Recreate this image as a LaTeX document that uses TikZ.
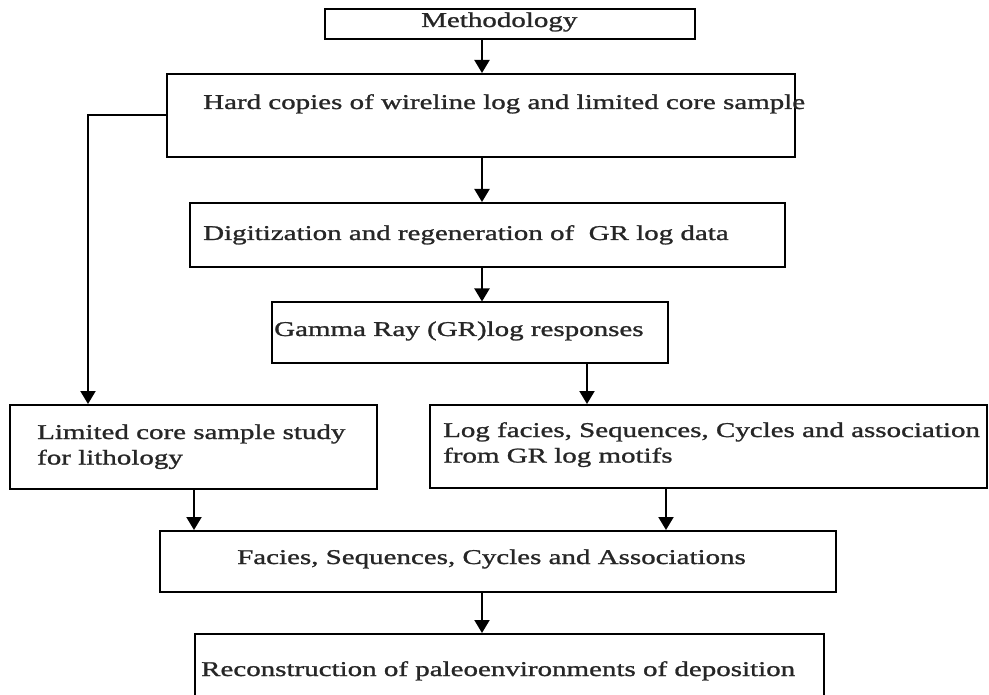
\documentclass[tikz,border=0pt]{standalone}
\usepackage{fontspec}
\setmainfont{Liberation Serif}[FakeStretch=1.38,FakeBold=1.2]
\usetikzlibrary{arrows.meta}
\begin{document}
\begin{tikzpicture}[x=1pt,y=-1pt,
  box/.style={draw=black,line width=2pt,rectangle,inner sep=0pt},
  txt/.style={anchor=base west,inner sep=0pt,font=\fontsize{21}{25.5}\selectfont,align=left,text=black!85},
  arr/.style={line width=2pt,-{Triangle[length=13pt,width=15pt]}},
  ln/.style={line width=2pt}]
\useasboundingbox (0,0) rectangle (989,695);
\begin{scope}
\clip (0,0) rectangle (989,695);
% boxes
\node[box,minimum width=370pt,minimum height=30pt] (meth) at (510,24) {};
\node[box,minimum width=628pt,minimum height=83pt] (hard) at (481,115.5) {};
\node[box,minimum width=595pt,minimum height=64pt] (digi) at (487.5,235) {};
\node[box,minimum width=396pt,minimum height=61pt] (gamma) at (470,333) {};
\node[box,minimum width=367pt,minimum height=84pt] (lim) at (193.5,447) {};
\node[box,minimum width=557pt,minimum height=83pt] (log) at (708.5,446.5) {};
\node[box,minimum width=676pt,minimum height=61pt] (fac) at (498,561.5) {};
\node[box,minimum width=629pt,minimum height=90pt] (rec) at (509.5,679) {};
% texts
\node[txt] (tmeth) at (421,27) {Methodology};
\node[txt] (thard) at (203,109) {Hard copies of wireline log and limited core sample};
\node[txt] (tdigi) at (203,240) {Digitization and regeneration of\ \ GR log data};
\node[txt] (tgamma) at (274,336) {Gamma Ray (GR)log responses};
\node[txt] (tlim) at (37,464.5) {Limited core sample study\\for lithology};
\node[txt] (tlog) at (443,462.5) {Log facies, Sequences, Cycles and association\\from GR log motifs};
\node[txt] (tfac) at (237,564) {Facies, Sequences, Cycles and Associations};
\node[txt] (trec) at (201,676) {Reconstruction of paleoenvironments of deposition};
% column coordinates
\coordinate (cm) at (482,0);
\coordinate (cl) at (88,0);
\coordinate (cg) at (587,0);
\coordinate (c1) at (194,0);
\coordinate (c2) at (666,0);
% connectors
\draw[arr] (cm |- meth.south) -- (cm |- hard.north);
\draw[arr] (cm |- hard.south) -- (cm |- digi.north);
\draw[arr] (cm |- digi.south) -- (cm |- gamma.north);
\draw[arr] (hard.west |- 0,115) -| (cl |- lim.north);
\draw[arr] (cg |- gamma.south) -- (cg |- log.north);
\draw[arr] (c1 |- lim.south) -- (c1 |- fac.north);
\draw[arr] (c2 |- log.south) -- (c2 |- fac.north);
\draw[arr] (cm |- fac.south) -- (cm |- rec.north);
\end{scope}
\end{tikzpicture}
\end{document}
